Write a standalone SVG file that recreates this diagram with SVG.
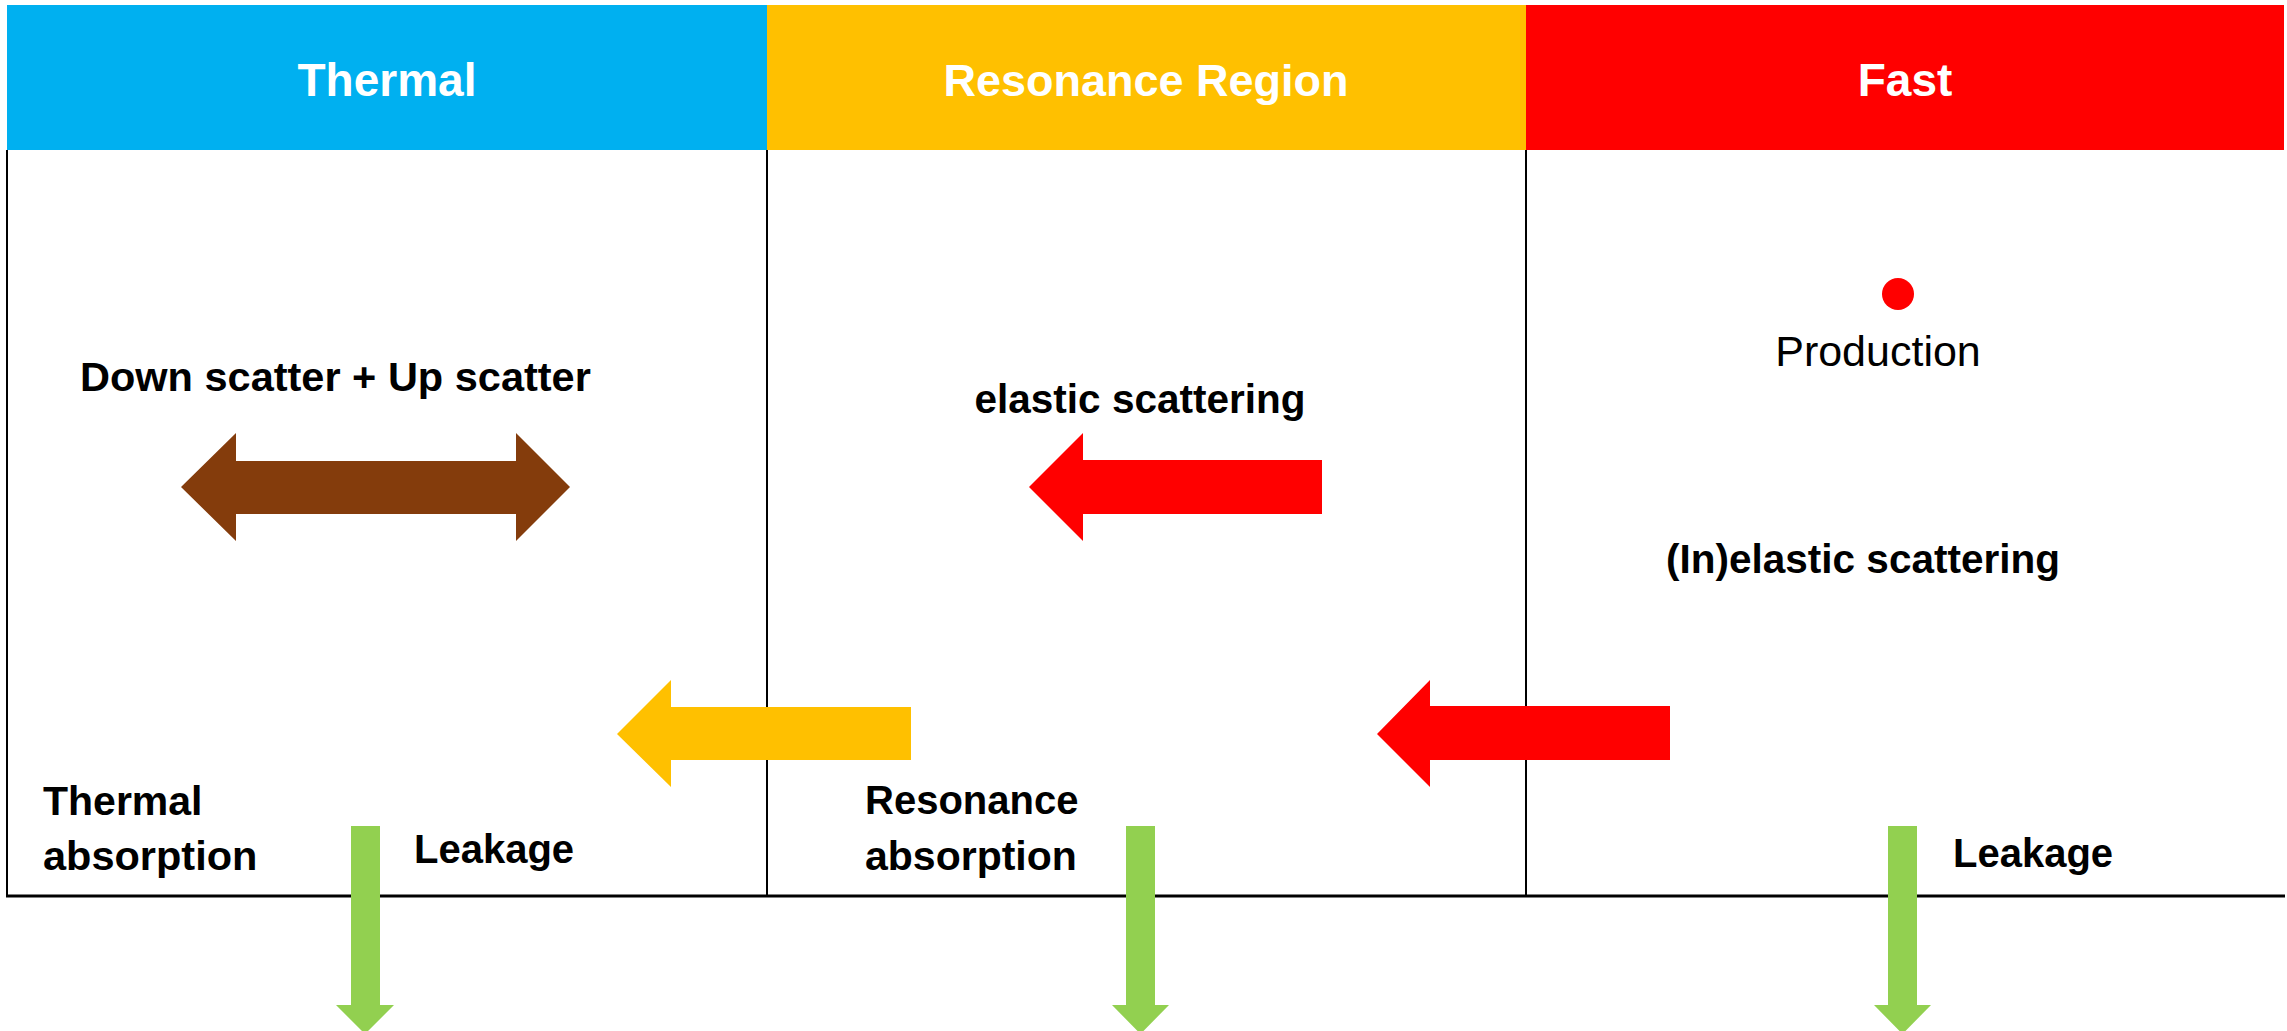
<svg xmlns="http://www.w3.org/2000/svg" width="2287" height="1031" viewBox="0 0 2287 1031">
  <style>
    .hdr { font-family: "Liberation Sans", Arial, sans-serif; font-weight: bold; font-size: 46px; fill: #ffffff; text-anchor: middle; }
    .lbl { font-family: "Liberation Sans", Arial, sans-serif; font-weight: bold; font-size: 40px; fill: #000000; }
    .reg { font-family: "Liberation Sans", Arial, sans-serif; font-size: 43px; fill: #000000; }
    .grid { stroke: #000000; stroke-width: 2; fill: none; }
    .base { stroke: #000000; stroke-width: 3; fill: none; }
    .brown { fill: #843C0C; }
    .red { fill: #FF0000; }
    .yellow { fill: #FFC000; }
    .green { fill: #92D050; }
  </style>
  <rect x="0" y="0" width="2287" height="1031" fill="#ffffff"/>

  <g id="frame">
    <line class="grid" x1="7" y1="150" x2="7" y2="896"/>
    <line class="grid" x1="767" y1="150" x2="767" y2="896"/>
    <line class="grid" x1="1526" y1="150" x2="1526" y2="896"/>
    <line class="base" x1="6" y1="896" x2="2285" y2="896"/>
  </g>

  <g id="header-thermal">
    <rect x="7" y="5" width="760" height="145" fill="#00B0F0"/>
    <text class="hdr" x="387" y="96">Thermal</text>
  </g>
  <g id="header-resonance">
    <rect x="767" y="5" width="759" height="145" fill="#FFC000"/>
    <text class="hdr" x="1146" y="96" style="font-size:45px">Resonance Region</text>
  </g>
  <g id="header-fast">
    <rect x="1526" y="5" width="758" height="145" fill="#FF0000"/>
    <text class="hdr" x="1905" y="96">Fast</text>
  </g>

  <g id="label-down-up-scatter">
    <text class="lbl" x="80" y="391" style="font-size:41.5px">Down scatter + Up scatter</text>
  </g>
  <g id="label-elastic">
    <text class="lbl" x="1140" y="413" text-anchor="middle" style="font-size:40.5px">elastic scattering</text>
  </g>
  <g id="production">
    <circle cx="1898" cy="294" r="16" fill="#FF0000"/>
    <text class="reg" x="1878" y="366" text-anchor="middle">Production</text>
  </g>
  <g id="label-inelastic">
    <text class="lbl" x="1863" y="573" text-anchor="middle" style="font-size:40.5px">(In)elastic scattering</text>
  </g>
  <g id="label-thermal-absorption">
    <text class="lbl" x="43" y="815" style="font-size:41px">Thermal</text>
    <text class="lbl" x="43" y="870" style="font-size:41.5px">absorption</text>
  </g>
  <g id="label-leakage-thermal">
    <text class="lbl" x="414" y="863">Leakage</text>
  </g>
  <g id="label-resonance-absorption">
    <text class="lbl" x="865" y="814">Resonance</text>
    <text class="lbl" x="865" y="870" style="font-size:41px">absorption</text>
  </g>
  <g id="label-leakage-fast">
    <text class="lbl" x="1953" y="867">Leakage</text>
  </g>

  <g id="connectors">
    <polygon class="brown" points="181,487 236,433 236,461 516,461 516,433 570,487 516,541 516,514 236,514 236,541"/>
    <polygon class="red" points="1029,487 1083,433 1083,460 1322,460 1322,514 1083,514 1083,541"/>
    <polygon class="yellow" points="617,734 671,680 671,707 911,707 911,760 671,760 671,787"/>
    <polygon class="red" points="1377,734 1430,680 1430,706 1670,706 1670,760 1430,760 1430,787"/>
    <polygon class="green" points="351,826 380,826 380,1005 394,1005 365,1034 336,1005 351,1005"/>
    <polygon class="green" points="1126,826 1155,826 1155,1005 1169,1005 1140.5,1034 1112,1005 1126,1005"/>
    <polygon class="green" points="1888,826 1917,826 1917,1005 1931,1005 1902.5,1034 1874,1005 1888,1005"/>
  </g>
</svg>
